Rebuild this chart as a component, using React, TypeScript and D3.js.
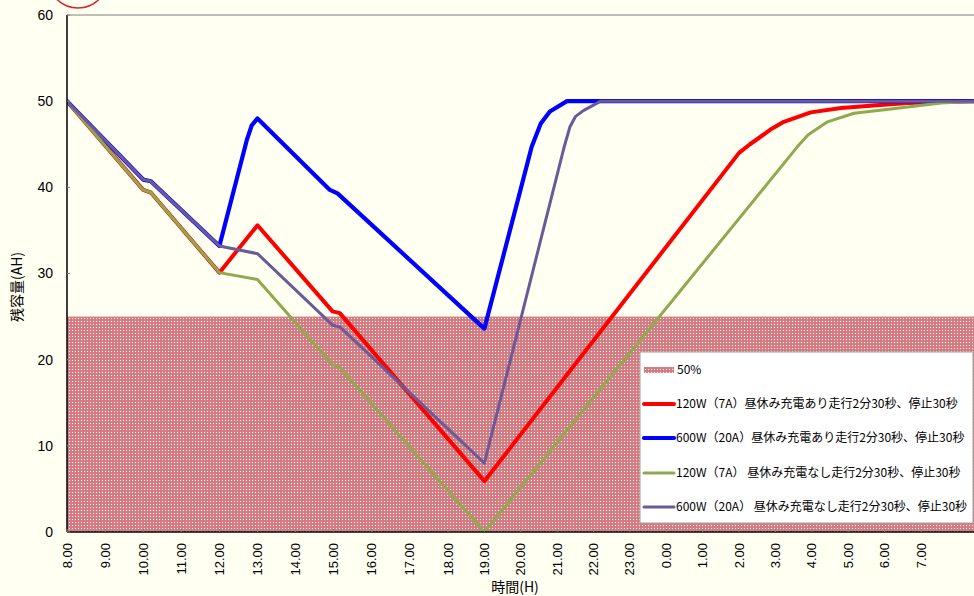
import React from "react";
import * as d3 from "d3";

const W = 974;
const H = 596;

const hourTicks = d3.range(8, 32); // 8.00 ... 7.00 (next day = 24..31)
const yTicks = [0, 10, 20, 30, 40, 50, 60];
const bandValue = 25;

const redData: [number, number][] = [
  [8, 50], [10, 39.7], [10.2, 39.4], [12, 30.1], [13, 35.6], [14.97, 25.6], [15.16, 25.4],
  [19, 5.9], [26.0, 44.0], [26.3, 45.0], [26.6, 45.9], [26.9, 46.8], [27.23, 47.6],
  [27.97, 48.7], [28.8, 49.2], [29.7, 49.5], [30.64, 49.8], [31.55, 49.9], [32.3, 50], [33, 50],
];
const blueData: [number, number][] = [
  [8, 50], [10, 40.9], [10.2, 40.7], [12, 33.2], [12.72, 45.5], [12.85, 47.2], [13, 48.0],
  [14.9, 39.7], [15.1, 39.3], [19, 23.6], [20.3, 44.7], [20.55, 47.4], [20.8, 48.8],
  [21.27, 50], [33, 50],
];
const greenData: [number, number][] = [
  [8, 50], [10, 39.7], [10.2, 39.4], [12, 30.1], [13, 29.3], [14.97, 19.4], [15.16, 19.1],
  [19, 0], [27.6, 44.7], [27.9, 46.1], [28.43, 47.6], [29.16, 48.6], [30.17, 49.1], [31.55, 49.8],
  [32.5, 50], [33, 50],
];
const purpleData: [number, number][] = [
  [8, 50], [10, 40.9], [10.2, 40.7], [12, 33.2], [13, 32.3], [14.97, 24.0], [15.16, 23.8],
  [19, 8.0], [21.2, 44.8], [21.35, 47.0], [21.5, 48.2], [21.72, 48.9], [22.2, 50], [33, 50],
];

const seriesNames = [
  "120W（7A）昼休み充電あり走行2分30秒、停止30秒",
  "600W（20A）昼休み充電あり走行2分30秒、停止30秒",
  "120W（7A） 昼休み充電なし走行2分30秒、停止30秒",
  "600W（20A） 昼休み充電なし走行2分30秒、停止30秒",
];
const seriesColors = ["#FF0000", "#0000FF", "#8EAA4E", "#6A5B98"];
const seriesWidths = [4, 4.2, 3, 3];
const seriesData = [redData, blueData, greenData, purpleData];
const bandLabel = "50%";

export default function App() {
  const left = 67, top = 15, right = W, bottom = 532;
  const x = d3.scaleLinear().domain([8, 18, 31]).range([left, 448, 921]);
  const y = d3.scaleLinear().domain([0, 60]).range([bottom, top]);
  const line = d3.line<[number, number]>().x(d => x(d[0])).y(d => y(d[1]));
  const font = "'Liberation Sans', Arial, sans-serif";
  const jp = "'Noto Sans CJK JP', sans-serif";

  const lgX = 640, lgY = 352, lgW = 333, lgH = 171;
  const rowY = [370, 404, 438, 473, 507];

  return (
    <svg width={W} height={H} style={{ position: "absolute", left: 0, top: 0 }}>
      <defs>
        <pattern id="hatch" width="3" height="3" patternUnits="userSpaceOnUse">
          <rect width="3" height="3" fill="#D6868A" />
          <rect x="0" y="0" width="1" height="1" fill="#FAE8E8" />
          <rect x="1.5" y="1.5" width="1" height="1" fill="#C8505A" />
        </pattern>
        <clipPath id="plot">
          <rect x={left} y={top} width={right - left} height={bottom - top} />
        </clipPath>
      </defs>
      <rect width={W} height={H} fill="#FFFFF2" />
      {/* red circle annotation partially visible */}
      <circle cx={78} cy={-22} r={30} fill="none" stroke="#E0202A" strokeWidth={1.5} />

      {/* band */}
      <rect x={left} y={y(bandValue)} width={right - left} height={y(0) - y(bandValue)} fill="url(#hatch)" />

      {/* borders */}
      <line x1={left} x2={right} y1={top} y2={top} stroke="#808080" strokeWidth={1} />

      {/* series */}
      <g clipPath="url(#plot)">
        {seriesData.map((d, i) => (
          <path key={i} d={line(d) || ""} fill="none" stroke={seriesColors[i]}
            strokeWidth={seriesWidths[i]} strokeLinejoin="round" strokeLinecap="round" />
        ))}
      </g>

      {/* axes */}
      <line x1={left} x2={left} y1={top} y2={bottom} stroke="#000" strokeWidth={1.5} />
      <line x1={left} x2={right} y1={bottom} y2={bottom} stroke="#000" strokeWidth={1.5} />
      {yTicks.map(t => (
        <g key={t}>
          <line x1={left} x2={left + 3} y1={y(t)} y2={y(t)} stroke="#808080" />
          <text x={53} y={y(t)} dy="0.35em" textAnchor="end" fontFamily={font} fontSize={14} fill="#000">{t}</text>
        </g>
      ))}
      {hourTicks.map(h => (
        <g key={h}>
          <line x1={x(h)} x2={x(h)} y1={bottom} y2={bottom - 3} stroke="#808080" />
          <text transform={`translate(${x(h) + 4.5},543) rotate(-90)`} textAnchor="end"
            fontFamily={font} fontSize={13} fill="#000">{(h % 24).toFixed(2)}</text>
        </g>
      ))}
      <text transform="translate(22,287) rotate(-90)" textAnchor="middle" fontFamily={jp} fontSize={14} fill="#000">残容量(AH)</text>
      <text x={515} y={592} textAnchor="middle" fontFamily={jp} fontSize={14} fill="#000">時間(H)</text>

      {/* legend */}
      <rect x={lgX} y={lgY} width={lgW} height={lgH} fill="#FFFFFF" stroke="#A0A0A0" strokeWidth={1} />
      <rect x={644} y={rowY[0] - 3} width={30} height={6} fill="url(#hatch)" />
      <text x={677} y={rowY[0]} dy="0.35em" fontFamily={jp} fontSize={12} fill="#000">{bandLabel}</text>
      {seriesNames.map((n, i) => (
        <g key={n}>
          <line x1={644} x2={674} y1={rowY[i + 1]} y2={rowY[i + 1]} stroke={seriesColors[i]}
            strokeWidth={seriesWidths[i]} strokeLinecap="round" />
          <text x={676} y={rowY[i + 1]} dy="0.35em" fontFamily={jp} fontSize={12} fill="#000">{n}</text>
        </g>
      ))}
    </svg>
  );
}
